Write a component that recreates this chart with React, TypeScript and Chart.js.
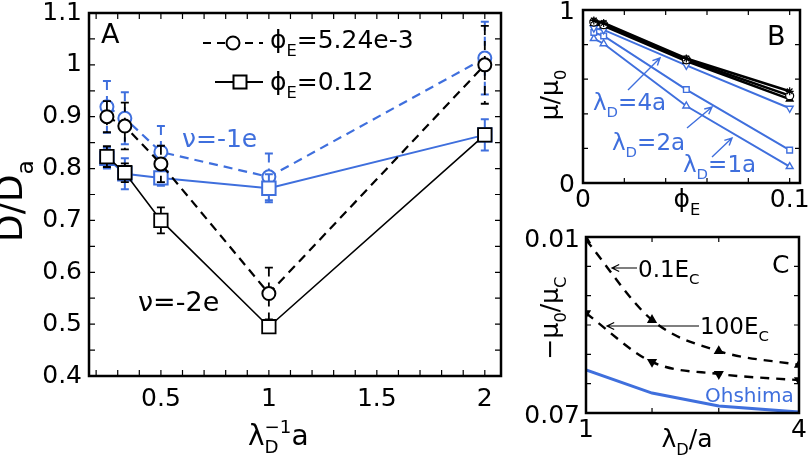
import React, { useEffect, useRef } from 'react';
import { Chart, registerables } from 'chart.js';
Chart.register(...registerables);

const FONT = '"DejaVu Sans", "Liberation Sans", sans-serif';
const BLUE = '#3f6fdd';
const BLACK = '#000000';

// ---------- Panel A : D/D_a vs lambda_D^-1 a ----------
const invLambdaA = [0.25, 0.333, 0.5, 1, 2];
const dBlackDash = [0.9, 0.882, 0.809, 0.559, 1.0];
const errBlackDash = [0.03, 0.045, 0.035, 0.05, 0.075];
const dBlackSolid = [0.823, 0.792, 0.7, 0.495, 0.865];
const errBlackSolid = [0.02, 0.018, 0.025, 0.005, 0.01];
const dBlueDash = [0.919, 0.897, 0.832, 0.784, 1.013];
const errBlueDash = [0.05, 0.05, 0.05, 0.045, 0.07];
const dBlueSolid = [0.82, 0.79, 0.782, 0.762, 0.865];
const errBlueSolid = [0.02, 0.03, 0.015, 0.027, 0.03];
const xTickMarksA = [0.2, 0.3, 0.4, 0.5, 0.6, 0.7, 0.8, 0.9, 1.0, 1.1, 1.2, 1.3, 1.4, 1.5, 1.6, 1.7, 1.8, 1.9, 2.0];
const xTickLabelsA = [0.5, 1, 1.5, 2];
const yTickMarksA = [0.4, 0.45, 0.5, 0.55, 0.6, 0.65, 0.7, 0.75, 0.8, 0.85, 0.9, 0.95, 1.0, 1.05, 1.1];
const yTickLabelsA = [0.4, 0.5, 0.6, 0.7, 0.8, 0.9, 1, 1.1];

// ---------- Panel B : mu/mu0 vs phi_E ----------
const phiE = [0.00524, 0.01, 0.05, 0.1];
const muBlackA = [0.94, 0.925, 0.72, 0.53];
const muBlackB = [0.93, 0.915, 0.712, 0.505];
const muBlackC = [0.922, 0.908, 0.705, 0.485];
const muBlue4a = [0.895, 0.885, 0.68, 0.432];
const muBlue2a = [0.87, 0.85, 0.54, 0.19];
const muBlue1a = [0.835, 0.805, 0.445, 0.095];
const xTickMarksB = [0, 0.02, 0.04, 0.06, 0.08, 0.1];
const xTickLabelsB = [0, 0.1];
const yTickMarksB = [0, 0.2, 0.4, 0.6, 0.8, 1];
const yTickLabelsB = [0, 1];

// ---------- Panel C : -mu0/muC vs lambda_D/a ----------
const lambdaDC = [1, 1.93, 2.87, 4];
const mu01Ec = [0.011, 0.0383, 0.0489, 0.0536];
const mu100Ec = [0.036, 0.0526, 0.0567, 0.0588];
const muOhshima = [0.0553, 0.0632, 0.0676, 0.0697];
const yTickMarksC = [0.01, 0.02, 0.03, 0.04, 0.05, 0.06, 0.07];
const yTickLabelsC = [0.01, 0.07];
const xTickLabelsC = [1, 4];

type Seg = [string, string?];
interface TextItem { x: number; y: number; segs: Seg[]; size: number; color?: string; rot?: number; align?: 'left' | 'center' | 'right'; }
interface ArrowItem { x1: number; y1: number; x2: number; y2: number; color: string; width: number; }
interface LegendItem { x1: number; x2: number; y: number; mx: number; dash: number[]; shape: 'circle' | 'rect'; }
interface DecoCfg { ox: number; oy: number; xTicks: number[]; yTicks: number[]; tickLen: number; box: number; texts: TextItem[]; arrows: ArrowItem[]; legend?: LegendItem[]; }

function drawRich(ctx: CanvasRenderingContext2D, t: TextItem, ox: number, oy: number) {
  const size = t.size;
  const small = size * 0.65;
  ctx.save();
  ctx.translate(t.x - ox, t.y - oy);
  if (t.rot) ctx.rotate(t.rot);
  ctx.fillStyle = t.color || BLACK;
  ctx.textBaseline = 'alphabetic';
  ctx.textAlign = 'left';
  const items = t.segs.map(([s, k]) => {
    if (k === 'ss') {
      const [a, b] = s.split('|');
      ctx.font = `${small}px ${FONT}`;
      return { s, k, a, b, w: Math.max(ctx.measureText(a).width, ctx.measureText(b).width) };
    }
    ctx.font = `${k ? small : size}px ${FONT}`;
    return { s, k, a: '', b: '', w: ctx.measureText(s).width };
  });
  const total = items.reduce((acc, it) => acc + it.w, 0);
  let x = t.align === 'center' ? -total / 2 : t.align === 'right' ? -total : 0;
  for (const it of items) {
    if (it.k === 'ss') {
      ctx.font = `${small}px ${FONT}`;
      ctx.fillText(it.a, x, size * 0.3);
      ctx.fillText(it.b, x, -size * 0.42);
    } else {
      ctx.font = `${it.k ? small : size}px ${FONT}`;
      const dy = it.k === 'sub' ? size * 0.3 : it.k === 'sup' ? -size * 0.42 : 0;
      ctx.fillText(it.s, x, dy);
    }
    x += it.w;
  }
  ctx.restore();
}

function makeDeco(cfg: DecoCfg): any {
  return {
    id: 'deco',
    beforeDatasetDraw(chart: any, args: any) {
      const ds: any = chart.data.datasets[args.index];
      if (!ds.errs) return;
      const meta = chart.getDatasetMeta(args.index);
      const ys = chart.scales.y;
      const ctx: CanvasRenderingContext2D = chart.ctx;
      ctx.save();
      ctx.strokeStyle = ds.borderColor;
      ctx.lineWidth = ds.errWidth || 1.8;
      meta.data.forEach((pt: any, i: number) => {
        const v = ds.data[i].y;
        const e = ds.errs[i];
        if (!e) return;
        const yt = ys.getPixelForValue(v + e);
        const yb = ys.getPixelForValue(v - e);
        ctx.setLineDash(ds.borderDash || []);
        ctx.beginPath();
        ctx.moveTo(pt.x, yt);
        ctx.lineTo(pt.x, yb);
        ctx.stroke();
        ctx.setLineDash([]);
        ctx.beginPath();
        ctx.moveTo(pt.x - 4, yt);
        ctx.lineTo(pt.x + 4, yt);
        ctx.moveTo(pt.x - 4, yb);
        ctx.lineTo(pt.x + 4, yb);
        ctx.stroke();
      });
      ctx.restore();
    },
    afterDraw(chart: any) {
      const ctx: CanvasRenderingContext2D = chart.ctx;
      const { left, right, top, bottom } = chart.chartArea;
      const xs = chart.scales.x;
      const ys = chart.scales.y;
      ctx.save();
      ctx.strokeStyle = BLACK;
      ctx.lineWidth = 1.2;
      ctx.beginPath();
      for (const v of cfg.xTicks) {
        const p = xs.getPixelForValue(v);
        ctx.moveTo(p, bottom);
        ctx.lineTo(p, bottom - cfg.tickLen);
        ctx.moveTo(p, top);
        ctx.lineTo(p, top + cfg.tickLen);
      }
      for (const v of cfg.yTicks) {
        const p = ys.getPixelForValue(v);
        ctx.moveTo(left, p);
        ctx.lineTo(left + cfg.tickLen, p);
        ctx.moveTo(right, p);
        ctx.lineTo(right - cfg.tickLen, p);
      }
      ctx.stroke();
      ctx.lineWidth = cfg.box;
      ctx.strokeRect(left, top, right - left, bottom - top);
      for (const l of cfg.legend || []) {
        ctx.lineWidth = 2;
        ctx.setLineDash(l.dash);
        ctx.beginPath();
        ctx.moveTo(l.x1 - cfg.ox, l.y - cfg.oy);
        ctx.lineTo(l.x2 - cfg.ox, l.y - cfg.oy);
        ctx.stroke();
        ctx.setLineDash([]);
        ctx.fillStyle = '#fff';
        ctx.beginPath();
        if (l.shape === 'circle') ctx.arc(l.mx - cfg.ox, l.y - cfg.oy, 6.5, 0, Math.PI * 2);
        else ctx.rect(l.mx - cfg.ox - 6.5, l.y - cfg.oy - 6.5, 13, 13);
        ctx.fill();
        ctx.stroke();
      }
      for (const a of cfg.arrows) {
        ctx.strokeStyle = a.color;
        ctx.lineWidth = a.width;
        const x1 = a.x1 - cfg.ox, y1 = a.y1 - cfg.oy, x2 = a.x2 - cfg.ox, y2 = a.y2 - cfg.oy;
        const ang = Math.atan2(y2 - y1, x2 - x1);
        const h = 8;
        ctx.beginPath();
        ctx.moveTo(x1, y1);
        ctx.lineTo(x2, y2);
        ctx.moveTo(x2 - h * Math.cos(ang - 0.45), y2 - h * Math.sin(ang - 0.45));
        ctx.lineTo(x2, y2);
        ctx.lineTo(x2 - h * Math.cos(ang + 0.45), y2 - h * Math.sin(ang + 0.45));
        ctx.stroke();
      }
      ctx.restore();
      for (const t of cfg.texts) drawRich(ctx, t, cfg.ox, cfg.oy);
    },
  };
}

function axisX(min: number, max: number, labels: number[], size: number, pad: number, h: number, extra: any = {}) {
  return {
    type: 'linear',
    min,
    max,
    grid: { display: false, drawTicks: false },
    border: { display: false },
    afterBuildTicks: (s: any) => { s.ticks = labels.map((v) => ({ value: v })); },
    afterFit: (s: any) => { s.height = h; s.paddingLeft = 0; s.paddingRight = 0; },
    ticks: { autoSkip: false, maxRotation: 0, padding: pad, color: BLACK, font: { family: FONT, size }, callback: (v: any) => String(+Number(v).toFixed(3)) },
    ...extra,
  };
}
function axisY(min: number, max: number, labels: number[], size: number, pad: number, w: number, extra: any = {}) {
  const { ticks: tx, ...rest } = extra;
  return {
    type: 'linear',
    min,
    max,
    grid: { display: false, drawTicks: false },
    border: { display: false },
    afterBuildTicks: (s: any) => { s.ticks = labels.map((v) => ({ value: v })); },
    afterFit: (s: any) => { s.width = w; s.paddingTop = 0; s.paddingBottom = 0; },
    ticks: { autoSkip: false, padding: pad, color: BLACK, font: { family: FONT, size }, callback: (v: any) => String(+Number(v).toFixed(3)), ...(tx || {}) },
    ...rest,
  };
}
const pts = (xs: number[], ys: number[]) => xs.map((x, i) => ({ x, y: ys[i] }));

function buildA(): any {
  const deco = makeDeco({
    ox: 0, oy: 0, xTicks: xTickMarksA, yTicks: yTickMarksA, tickLen: 6, box: 2.5,
    legend: [
      { x1: 203, x2: 263, y: 43, mx: 233, dash: [8, 6], shape: 'circle' },
      { x1: 215, x2: 263, y: 82, mx: 240, dash: [], shape: 'rect' },
    ],
    arrows: [],
    texts: [
      { x: 101, y: 43, segs: [['A']], size: 27 },
      { x: 270, y: 48, segs: [['ϕ'], ['E', 'sub'], ['=5.24e-3']], size: 25 },
      { x: 270, y: 90, segs: [['ϕ'], ['E', 'sub'], ['=0.12']], size: 25 },
      { x: 182, y: 147, segs: [['ν=-1e']], size: 25, color: BLUE },
      { x: 138, y: 311, segs: [['ν=-2e']], size: 27 },
      { x: 248, y: 445, segs: [['λ'], ['D|−1', 'ss'], ['a']], size: 28 },
      { x: 22, y: 201, segs: [['D/D'], ['a', 'sub']], size: 36, rot: -Math.PI / 2, align: 'center' },
    ],
  });
  return {
    type: 'line',
    data: {
      datasets: [
        { data: pts(invLambdaA, dBlackSolid), errs: errBlackSolid, borderColor: BLACK, borderWidth: 1.6, pointStyle: 'rect', pointRadius: 9.5, pointBorderWidth: 1.8, pointBackgroundColor: '#fff', pointBorderColor: BLACK },
        { data: pts(invLambdaA, dBlackDash), errs: errBlackDash, borderColor: BLACK, borderWidth: 2.2, borderDash: [9, 6], pointStyle: 'circle', pointRadius: 6.5, pointBorderWidth: 2, pointBackgroundColor: '#fff', pointBorderColor: BLACK },
        { data: pts(invLambdaA, dBlueSolid), errs: errBlueSolid, borderColor: BLUE, borderWidth: 2, pointStyle: 'rect', pointRadius: 9.5, pointBorderWidth: 2, pointBackgroundColor: '#fff', pointBorderColor: BLUE, errWidth: 2 },
        { data: pts(invLambdaA, dBlueDash), errs: errBlueDash, borderColor: BLUE, borderWidth: 2.2, borderDash: [9, 6], pointStyle: 'circle', pointRadius: 6.5, pointBorderWidth: 2, pointBackgroundColor: '#fff', pointBorderColor: BLUE, errWidth: 2 },
      ],
    },
    options: {
      responsive: false, animation: false, events: [],
      layout: { padding: { top: 13, right: 29, left: 0, bottom: 0 } },
      plugins: { legend: { display: false }, tooltip: { enabled: false } },
      scales: {
        x: axisX(0.167, 2.075, xTickLabelsA, 25, 8, 85),
        y: axisY(0.4, 1.1, yTickLabelsA, 25, 7, 89),
      },
    },
    plugins: [deco],
  };
}

function buildB(): any {
  const ox = 505, oy = 0;
  const deco = makeDeco({
    ox, oy, xTicks: xTickMarksB, yTicks: yTickMarksB, tickLen: 5, box: 2.5,
    arrows: [
      { x1: 628, y1: 90, x2: 660, y2: 58, color: BLUE, width: 1.4 },
      { x1: 687, y1: 128, x2: 712, y2: 107, color: BLUE, width: 1.4 },
      { x1: 712, y1: 157, x2: 732, y2: 138, color: BLUE, width: 1.4 },
    ],
    texts: [
      { x: 767, y: 45, segs: [['B']], size: 27 },
      { x: 593, y: 110, segs: [['λ'], ['D', 'sub'], ['=4a']], size: 23, color: BLUE },
      { x: 612, y: 150, segs: [['λ'], ['D', 'sub'], ['=2a']], size: 23, color: BLUE },
      { x: 683, y: 172, segs: [['λ'], ['D', 'sub'], ['=1a']], size: 23, color: BLUE },
      { x: 687, y: 207, segs: [['ϕ'], ['E', 'sub']], size: 25, align: 'center' },
      { x: 558, y: 95, segs: [['μ/μ'], ['0', 'sub']], size: 25, rot: -Math.PI / 2, align: 'center' },
    ],
  });
  const blk = (d: number[], style: string, extra: any = {}) => ({ data: pts(phiE, d), borderColor: BLACK, borderWidth: 2.6, pointStyle: style, pointRadius: 4, pointBorderWidth: 1.2, pointBackgroundColor: BLACK, pointBorderColor: BLACK, ...extra });
  const blu = (d: number[], style: string, extra: any = {}) => ({ data: pts(phiE, d), borderColor: BLUE, borderWidth: 2, pointStyle: style, pointRadius: 4, pointBorderWidth: 1.4, pointBackgroundColor: '#fff', pointBorderColor: BLUE, ...extra });
  return {
    type: 'line',
    data: {
      datasets: [
        blk(muBlackA, 'star'),
        blk(muBlackB, 'circle', { pointBackgroundColor: '#fff' }),
        blk(muBlackC, 'triangle'),
        blu(muBlue4a, 'triangle', { pointRotation: 180 }),
        blu(muBlue2a, 'rect'),
        blu(muBlue1a, 'triangle'),
      ],
    },
    options: {
      responsive: false, animation: false, events: [],
      layout: { padding: { top: 10, right: 10, left: 0, bottom: 0 } },
      plugins: { legend: { display: false }, tooltip: { enabled: false } },
      scales: {
        x: axisX(0, 0.105, xTickLabelsB, 25, 2, 37),
        y: axisY(0, 1, yTickLabelsB, 25, 8, 78, { ticks: { labelOffset: 2 } }),
      },
    },
    plugins: [deco],
  };
}

function buildC(): any {
  const ox = 505, oy = 220;
  const deco = makeDeco({
    ox, oy, xTicks: lambdaDC, yTicks: yTickMarksC, tickLen: 5, box: 2.5,
    arrows: [
      { x1: 637, y1: 268, x2: 612, y2: 268, color: BLACK, width: 1.2 },
      { x1: 699, y1: 326, x2: 607, y2: 326, color: BLACK, width: 1.2 },
    ],
    texts: [
      { x: 772, y: 273, segs: [['C']], size: 25 },
      { x: 638, y: 277, segs: [['0.1E'], ['C', 'sub']], size: 23 },
      { x: 700, y: 334, segs: [['100E'], ['C', 'sub']], size: 23 },
      { x: 705, y: 402, segs: [['Ohshima']], size: 20, color: BLUE },
      { x: 687, y: 447, segs: [['λ'], ['D', 'sub'], ['/a']], size: 25, align: 'center' },
      { x: 558, y: 318, segs: [['−μ'], ['0', 'sub'], ['/μ'], ['C', 'sub']], size: 25, rot: -Math.PI / 2, align: 'center' },
    ],
  });
  return {
    type: 'line',
    data: {
      datasets: [
        { data: pts(lambdaDC, mu01Ec), borderColor: BLACK, borderWidth: 2.4, borderDash: [9, 7], cubicInterpolationMode: 'monotone', pointStyle: 'triangle', pointRadius: 3.5, pointBackgroundColor: BLACK, pointBorderColor: BLACK },
        { data: pts(lambdaDC, mu100Ec), borderColor: BLACK, borderWidth: 2.4, borderDash: [9, 7], cubicInterpolationMode: 'monotone', pointStyle: 'triangle', pointRotation: 180, pointRadius: 3.5, pointBackgroundColor: BLACK, pointBorderColor: BLACK },
        { data: pts(lambdaDC, muOhshima), borderColor: BLUE, borderWidth: 3, pointRadius: 0 },
      ],
    },
    options: {
      responsive: false, animation: false, events: [],
      layout: { padding: { top: 17, right: 11, left: 0, bottom: 0 } },
      plugins: { legend: { display: false }, tooltip: { enabled: false } },
      scales: {
        x: axisX(1, 4, xTickLabelsC, 25, 2, 48),
        y: axisY(0.01, 0.07, yTickLabelsC, 25, 6, 81, { reverse: true, ticks: { labelOffset: 3 } }),
      },
    },
    plugins: [deco],
  };
}

function Panel({ build, left, top, width, height }: { build: () => any; left: number; top: number; width: number; height: number }) {
  const ref = useRef<HTMLCanvasElement>(null);
  useEffect(() => {
    if (!ref.current) return;
    const chart = new Chart(ref.current, build());
    return () => chart.destroy();
  }, [build]);
  return <canvas ref={ref} width={width} height={height} style={{ position: 'absolute', left, top, width, height }} />;
}

export default function App() {
  return (
    <div style={{ position: 'absolute', left: 0, top: 0, width: 810, height: 461, background: '#fff', overflow: 'hidden' }}>
      <Panel build={buildA} left={0} top={0} width={530} height={461} />
      <Panel build={buildB} left={505} top={0} width={305} height={220} />
      <Panel build={buildC} left={505} top={220} width={305} height={241} />
    </div>
  );
}
